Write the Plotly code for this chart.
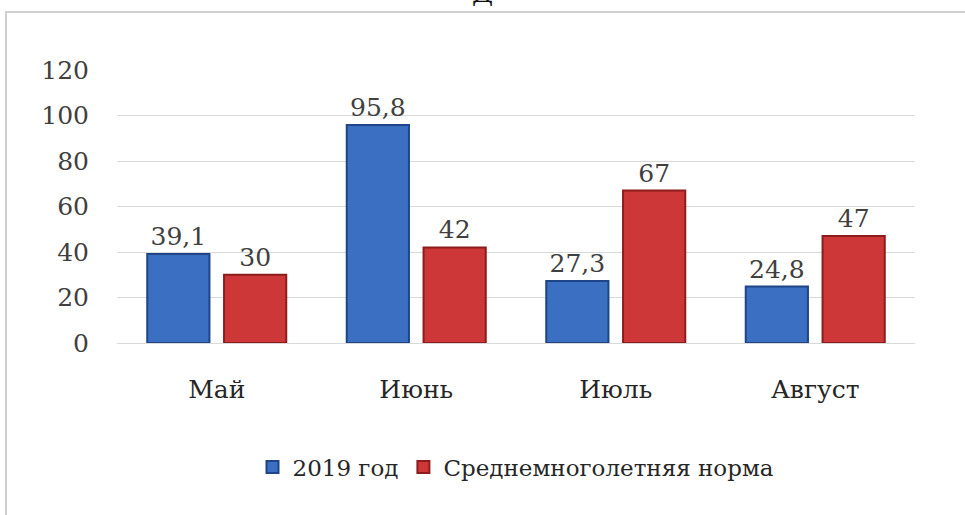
import plotly.graph_objects as go

months = ["Май", "Июнь", "Июль", "Август"]
year2019 = [39.1, 95.8, 27.3, 24.8]
norm = [30, 42, 67, 47]
labels2019 = ["39,1", "95,8", "27,3", "24,8"]
labelsNorm = ["30", "42", "67", "47"]
yticks = [0, 20, 40, 60, 80, 100, 120]

FONT = "DejaVu Serif"

fig = go.Figure()
fig.add_trace(go.Bar(
    x=months, y=year2019, name="2019 год",
    text=labels2019, textposition="outside",
    marker=dict(color="#3a6fc2", line=dict(color="#1d4587", width=2)),
    textfont=dict(family=FONT, size=25, color="#404040"),
    cliponaxis=False,
))
fig.add_trace(go.Bar(
    x=months, y=norm, name="Среднемноголетняя норма",
    text=labelsNorm, textposition="outside",
    marker=dict(color="#cd3737", line=dict(color="#8e1c1c", width=2)),
    textfont=dict(family=FONT, size=25, color="#404040"),
    cliponaxis=False,
))

W, H = 965, 515
L, R, T, B = 117, 50, 70, 172
pw, ph = W - L - R, H - T - B

def px(x):
    return (x - L) / pw

def py(y):
    return (H - B - y) / ph

fig.update_layout(
    width=W, height=H,
    margin=dict(l=L, r=R, t=T, b=B),
    paper_bgcolor="white", plot_bgcolor="white",
    barmode="group", bargap=0.23, bargroupgap=0.19,
    font=dict(family=FONT, color="#262626"),
    showlegend=True,
    legend=dict(orientation="h", x=0.5, xanchor="center", y=py(467), yanchor="middle",
                font=dict(family=FONT, size=23, color="#262626"),
                itemwidth=30, tracegroupgap=0, traceorder="normal"),
    xaxis=dict(showgrid=False, showline=True, linecolor="#d9d9d9", linewidth=1,
               tickfont=dict(family=FONT, size=25, color="#262626"),
               ticks="", ticklabelstandoff=24),
    yaxis=dict(range=[0, 120], tickvals=yticks, showgrid=True, gridcolor="#d9d9d9",
               gridwidth=1, zeroline=False, showline=False,
               tickfont=dict(family=FONT, size=25, color="#404040"),
               ticks="", ticklabelstandoff=27),
    shapes=[
        dict(type="line", xref="paper", yref="paper", x0=px(5), x1=px(970), y0=py(12), y1=py(12),
             line=dict(color="#cfcfcf", width=2)),
        dict(type="line", xref="paper", yref="paper", x0=px(6), x1=px(6), y0=py(11), y1=py(520),
             line=dict(color="#cfcfcf", width=2)),
    ],
    annotations=[
        dict(text="Д", xref="paper", yref="paper", x=px(482), y=py(10), xanchor="center",
             yanchor="bottom", showarrow=False, font=dict(family=FONT, size=26, color="#111111")),
    ],
)

fig.write_html("out.html")
